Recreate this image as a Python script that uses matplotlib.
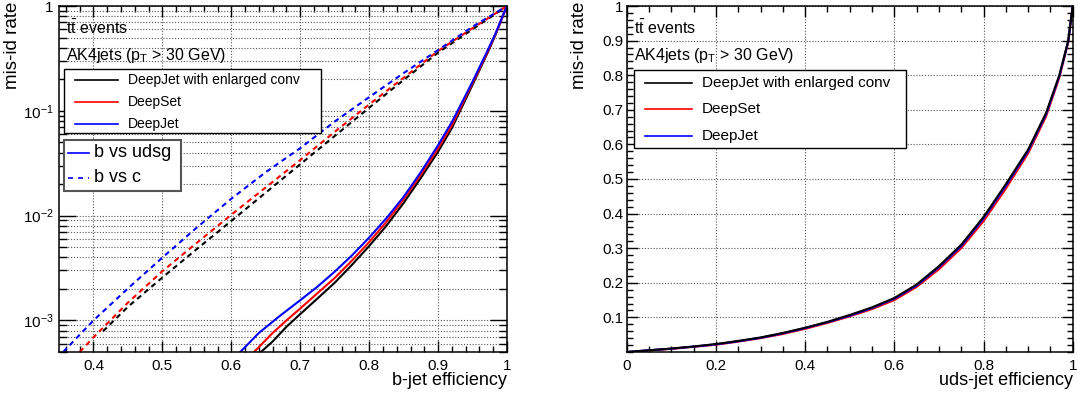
import matplotlib
matplotlib.use("Agg")
import matplotlib.pyplot as plt
import numpy as np
from matplotlib.lines import Line2D
from matplotlib.patches import Rectangle
from matplotlib.ticker import (FixedLocator, FixedFormatter, MultipleLocator,
                               LogLocator, NullFormatter)

plt.rcParams['font.family'] = ['Liberation Sans', 'DejaVu Sans']
plt.rcParams['mathtext.fontset'] = 'custom'
plt.rcParams['mathtext.rm'] = 'Liberation Sans'
plt.rcParams['mathtext.it'] = 'Liberation Sans:italic'
plt.rcParams['mathtext.default'] = 'regular'

W, H = 1078, 394

# ---------------- data ----------------
labels = ['DeepJet with enlarged conv', 'DeepSet', 'DeepJet']
colors = ['black', 'red', 'blue']

# b vs udsg (solid)
udsg_eff_conv = [0.643, 0.66, 0.68, 0.70, 0.725, 0.75, 0.775, 0.80, 0.825, 0.85, 0.875, 0.90,
                 0.92, 0.94, 0.95, 0.96, 0.97, 0.975, 0.98, 0.985, 0.99, 0.995, 1.0]
udsg_mis_conv = [5e-4, 6.3e-4, 8.7e-4, 1.15e-3, 1.62e-3, 2.29e-3, 3.39e-3, 5.13e-3, 8.0e-3, 0.0132,
                 0.0229, 0.0407, 0.0684, 0.129, 0.177, 0.244, 0.337, 0.398, 0.473, 0.565, 0.684,
                 0.832, 1.0]
udsg_eff_set = [0.633, 0.66, 0.68, 0.70, 0.725, 0.75, 0.775, 0.80, 0.825, 0.85, 0.875, 0.90,
                0.92, 0.94, 0.95, 0.96, 0.97, 0.975, 0.98, 0.985, 0.99, 0.995, 1.0]
udsg_mis_set = [5e-4, 7.6e-4, 1.0e-3, 1.3e-3, 1.82e-3, 2.54e-3, 3.72e-3, 5.6e-3, 8.7e-3, 0.0143,
                0.0245, 0.0437, 0.0724, 0.135, 0.184, 0.251, 0.345, 0.407, 0.481, 0.573, 0.692,
                0.836, 1.0]
udsg_eff_dj = [0.613, 0.64, 0.67, 0.70, 0.725, 0.75, 0.775, 0.80, 0.825, 0.85, 0.875, 0.90,
               0.92, 0.94, 0.95, 0.96, 0.97, 0.975, 0.98, 0.985, 0.99, 0.995, 1.0]
udsg_mis_dj = [5e-4, 7.6e-4, 1.1e-3, 1.56e-3, 2.1e-3, 2.92e-3, 4.17e-3, 6.17e-3, 9.44e-3, 0.0151,
               0.026, 0.047, 0.078, 0.141, 0.19, 0.26, 0.355, 0.417, 0.49, 0.58, 0.70, 0.84, 1.0]

# b vs c (dashed)
c_eff_conv = [0.414, 0.45, 0.50, 0.55, 0.60, 0.65, 0.70, 0.75, 0.80, 0.85, 0.90, 0.95, 1.0]
c_mis_conv = [7.9e-4, 1.35e-3, 2.57e-3, 4.8e-3, 8.9e-3, 0.0166, 0.0309, 0.0575, 0.107, 0.197,
              0.359, 0.60, 1.0]
c_eff_set = [0.380, 0.40, 0.45, 0.50, 0.55, 0.60, 0.65, 0.70, 0.75, 0.80, 0.85, 0.90, 0.95, 1.0]
c_mis_set = [5e-4, 6.9e-4, 1.48e-3, 2.95e-3, 5.5e-3, 0.0102, 0.0186, 0.0339, 0.063, 0.115,
             0.207, 0.372, 0.615, 1.0]
c_eff_dj = [0.356, 0.40, 0.45, 0.50, 0.55, 0.60, 0.65, 0.70, 0.75, 0.80, 0.85, 0.90, 0.95, 1.0]
c_mis_dj = [5e-4, 1.0e-3, 2.02e-3, 3.98e-3, 7.7e-3, 0.0145, 0.026, 0.044, 0.079, 0.135,
            0.229, 0.38, 0.635, 1.0]

# right panel: uds-jet efficiency vs mis-id rate
uds_eff = [0.0, 0.05, 0.1, 0.15, 0.2, 0.25, 0.3, 0.35, 0.4, 0.45, 0.5, 0.55, 0.6, 0.65, 0.7,
           0.75, 0.8, 0.85, 0.9, 0.94, 0.97, 0.99, 1.0]
uds_mis_conv = [0.0, 0.005, 0.010, 0.016, 0.023, 0.032, 0.042, 0.055, 0.070, 0.087, 0.107, 0.129,
                0.156, 0.195, 0.248, 0.31, 0.39, 0.485, 0.585, 0.69, 0.80, 0.90, 1.0]
uds_mis_set = [0.0, 0.0045, 0.009, 0.015, 0.021, 0.030, 0.040, 0.052, 0.067, 0.084, 0.103, 0.124,
               0.150, 0.188, 0.239, 0.30, 0.378, 0.472, 0.574, 0.68, 0.793, 0.895, 1.0]
uds_mis_dj = [0.0, 0.005, 0.0095, 0.0155, 0.022, 0.031, 0.041, 0.054, 0.069, 0.086, 0.105, 0.127,
              0.154, 0.192, 0.245, 0.306, 0.386, 0.48, 0.581, 0.686, 0.797, 0.898, 1.0]


def fx(px):
    return px / W


def fy(py):
    return 1 - py / H


def legend_box(x0, y0, x1, y1, rows, edge='black', elw=1.0, fs=10):
    # rows: (y, handle x0, handle x1, text x, color, linestyle, text)
    fig.add_artist(Rectangle((fx(x0), fy(y1)), (x1 - x0) / W, (y1 - y0) / H,
                             transform=fig.transFigure, facecolor='white',
                             edgecolor=edge, lw=elw, zorder=5))
    for y, hx0, hx1, tx, c, ls, txt in rows:
        fig.add_artist(Line2D([fx(hx0), fx(hx1)], [fy(y), fy(y)], color=c,
                              ls=ls, lw=1.2, transform=fig.transFigure, zorder=6))
        fig.text(fx(tx), fy(y), txt, fontsize=fs, va='center', ha='left', zorder=7)


def style_axes(ax):
    ax.tick_params(which='both', direction='in', top=True, right=True,
                   labelsize=11, width=1.0)
    ax.tick_params(which='major', length=8)
    ax.tick_params(which='minor', length=4)
    for s in ax.spines.values():
        s.set_linewidth(1.1)
    ax.set_axisbelow(True)


fig = plt.figure(figsize=(W / 100, H / 100), dpi=100)
ax1 = fig.add_axes([59 / W, 1 - 352 / H, 448 / W, 346 / H])
ax2 = fig.add_axes([626.7 / W, 1 - 352 / H, 446 / W, 346 / H])

gridkw = dict(color='#555555', linestyle=(0, (1, 1.6)), linewidth=0.8)

# ---------------- left panel ----------------
udsg_x = [udsg_eff_conv, udsg_eff_set, udsg_eff_dj]
udsg_y = [udsg_mis_conv, udsg_mis_set, udsg_mis_dj]
c_x = [c_eff_conv, c_eff_set, c_eff_dj]
c_y = [c_mis_conv, c_mis_set, c_mis_dj]
for i in range(3):
    ax1.plot(udsg_x[i], udsg_y[i], color=colors[i], lw=1.5)
    ax1.plot(c_x[i], c_y[i], color=colors[i], lw=1.5, dashes=(2.5, 2))

ax1.set_yscale('log')
ax1.set_xlim(0.35, 1.0)
ax1.set_ylim(5e-4, 1.0)
style_axes(ax1)
ax1.tick_params(axis='y', which='major', length=12)
ax1.tick_params(axis='y', which='minor', length=6)
ax1.tick_params(axis='y', pad=4)
ax1.tick_params(axis='x', pad=5)
ax1.xaxis.set_major_locator(FixedLocator([0.4, 0.5, 0.6, 0.7, 0.8, 0.9, 1.0]))
ax1.xaxis.set_major_formatter(FixedFormatter(['0.4', '0.5', '0.6', '0.7', '0.8', '0.9', '1']))
ax1.xaxis.set_minor_locator(MultipleLocator(0.02))
ax1.yaxis.set_major_locator(FixedLocator([1e-3, 1e-2, 1e-1, 1.0]))
ax1.yaxis.set_major_formatter(FixedFormatter(['$10^{-3}$', '$10^{-2}$', '$10^{-1}$', '1']))
ax1.yaxis.set_minor_locator(LogLocator(base=10, subs=np.arange(2, 10)))
ax1.yaxis.set_minor_formatter(NullFormatter())
ax1.grid(True, which='major', axis='x', **gridkw)
ax1.grid(True, which='both', axis='y', **gridkw)

ax1.set_xlabel('b-jet efficiency', fontsize=13, ha='right')
ax1.xaxis.set_label_coords(1.0, -0.058)
ax1.set_ylabel('mis-id rate', fontsize=13.5, loc='top')
ax1.yaxis.set_label_coords(-0.085, 1.012)

ax1.text(7 / 448, 0.919, r'$\mathrm{t\bar{t}}$ events', transform=ax1.transAxes,
         fontsize=11.5, va='baseline')
ax1.text(7 / 448, 0.844, r'AK4jets (p$_{\mathrm{T}}$ > 30 GeV)', transform=ax1.transAxes,
         fontsize=11.5, va='baseline')

legend_box(64, 69, 321, 133,
           [(80, 75, 118, 128, colors[0], '-', labels[0]),
            (101.7, 75, 118, 128, colors[1], '-', labels[1]),
            (124, 75, 118, 128, colors[2], '-', labels[2])], fs=10)
legend_box(64, 139.5, 181, 190.5,
           [(152.7, 68, 89, 94, 'blue', '-', 'b vs udsg'),
            (178, 68, 89, 94, 'blue', (0, (3, 3)), 'b vs c')],
           edge='#555555', elw=1.5, fs=13)

# ---------------- right panel ----------------
uds_y = [uds_mis_conv, uds_mis_set, uds_mis_dj]
for i in [1, 2, 0]:
    ax2.plot(uds_eff, uds_y[i], color=colors[i], lw=1.5)

ax2.set_xlim(0, 1)
ax2.set_ylim(0, 1)
style_axes(ax2)
ax2.tick_params(axis='y', pad=2.5)
ax2.tick_params(axis='x', pad=5)
ax2.xaxis.set_major_locator(FixedLocator([0, 0.2, 0.4, 0.6, 0.8, 1.0]))
ax2.xaxis.set_major_formatter(FixedFormatter(['0', '0.2', '0.4', '0.6', '0.8', '1']))
ax2.xaxis.set_minor_locator(MultipleLocator(0.05))
ax2.yaxis.set_major_locator(FixedLocator([0.1, 0.2, 0.3, 0.4, 0.5, 0.6, 0.7, 0.8, 0.9, 1.0]))
ax2.yaxis.set_major_formatter(FixedFormatter(['0.1', '0.2', '0.3', '0.4', '0.5',
                                              '0.6', '0.7', '0.8', '0.9', '1']))
ax2.yaxis.set_minor_locator(MultipleLocator(0.02))
ax2.grid(True, which='major', **gridkw)

ax2.set_xlabel('uds-jet efficiency', fontsize=13, ha='right')
ax2.xaxis.set_label_coords(1.0, -0.058)
ax2.set_ylabel('mis-id rate', fontsize=13.5, loc='top')
ax2.yaxis.set_label_coords(-0.087, 1.012)

ax2.text(7 / 446, 0.919, r'$\mathrm{t\bar{t}}$ events', transform=ax2.transAxes,
         fontsize=11.5, va='baseline')
ax2.text(7 / 446, 0.844, r'AK4jets (p$_{\mathrm{T}}$ > 30 GeV)', transform=ax2.transAxes,
         fontsize=11.5, va='baseline')

legend_box(634, 70, 905.7, 148,
           [(83.3, 645, 692, 702, colors[0], '-', labels[0]),
            (109.3, 645, 692, 702, colors[1], '-', labels[1]),
            (136, 645, 692, 702, colors[2], '-', labels[2])], fs=11)

fig.savefig('out.png', dpi=100)
